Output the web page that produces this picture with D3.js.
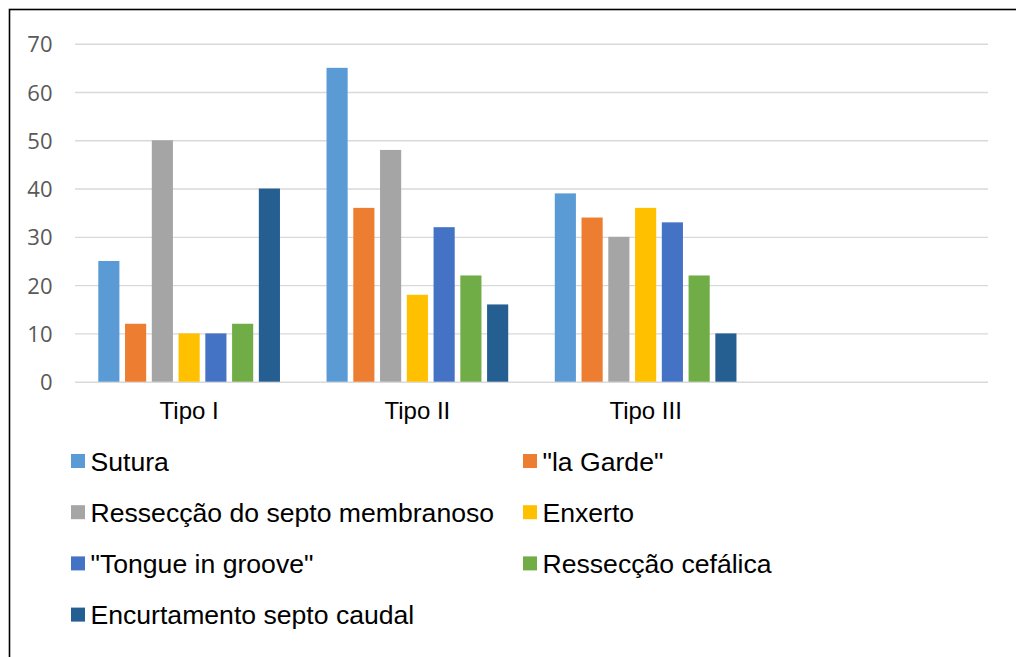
<!DOCTYPE html>
<html>
<head>
<meta charset="utf-8">
<script src="https://cdn.jsdelivr.net/npm/d3@7"></script>
<style>
  html, body { margin: 0; padding: 0; background: #fff; }
  svg { display: block; }
</style>
</head>
<body>
<script>
const categories = ["Tipo I", "Tipo II", "Tipo III", ""];
const seriesNames = ["Sutura", "\"la Garde\"", "Ressecção do septo membranoso", "Enxerto",
  "\"Tongue in groove\"", "Ressecção cefálica", "Encurtamento septo caudal"];
const seriesColors = ["#5B9BD5", "#ED7D31", "#A5A5A5", "#FFC000", "#4472C4", "#70AD47", "#255E91"];
const sutura      = [25, 65, 39];
const laGarde     = [12, 36, 34];
const resseccaoSM = [50, 48, 30];
const enxerto     = [10, 18, 36];
const tongue      = [10, 32, 33];
const resseccaoC  = [12, 22, 22];
const encurtamento = [40, 16, 10];
const seriesValues = [sutura, laGarde, resseccaoSM, enxerto, tongue, resseccaoC, encurtamento];
const yTicks = [0, 10, 20, 30, 40, 50, 60, 70];

const W = 1016, H = 657;
const svg = d3.select("body").append("svg").attr("width", W).attr("height", H);

// outer border (bottom/right outside view)
svg.append("rect").attr("x", 9.5).attr("y", 9.5).attr("width", 1100).attr("height", 700)
  .attr("fill", "none").attr("stroke", "#000").attr("stroke-width", 1.6);

const x0 = d3.scaleBand().domain(categories).range([75, 988]).paddingInner(0).paddingOuter(0);
const x1 = d3.scaleBand().domain(d3.range(seriesNames.length)).range([0, x0.bandwidth()])
  .paddingInner(0.21).paddingOuter(0.87);
const y = d3.scaleLinear().domain([0, 70]).range([381.7, 43.7]);

// gridlines
const yAxis = d3.axisLeft(y).tickValues(yTicks).tickSize(-(988 - 75)).tickFormat(d3.format("d"));
const gy = svg.append("g").attr("transform", "translate(75,0)").call(yAxis);
gy.select(".domain").remove();
gy.selectAll(".tick line").attr("stroke", "#D9D9D9").attr("stroke-width", 1.4);
gy.selectAll(".tick text").attr("x", -22.5).attr("dy", "0.37em")
  .attr("fill", "#595959").style("font-family", "'Open Sans', sans-serif").style("font-size", "22px");

// bars
const data = [];
categories.forEach((c, ci) => {
  seriesValues.forEach((vals, si) => {
    if (vals[ci] !== undefined) data.push({ cat: c, si, v: vals[ci] });
  });
});
svg.append("g").selectAll("rect").data(data).join("rect")
  .attr("x", d => x0(d.cat) + x1(d.si))
  .attr("y", d => y(d.v))
  .attr("width", x1.bandwidth())
  .attr("height", d => y(0) - y(d.v))
  .attr("fill", d => seriesColors[d.si]);

// x axis
const xAxis = d3.axisBottom(x0).tickSize(0).tickPadding(0);
const gx = svg.append("g").attr("transform", `translate(0,${y(0)})`).call(xAxis);
gx.select(".domain").remove();
gx.selectAll(".tick text").attr("y", 37).attr("dy", 0)
  .attr("fill", "#000").style("font-family", "'Liberation Sans', Arial, sans-serif").style("font-size", "24px");

// legend
const legend = svg.append("g");
const colX = [71, 523];
seriesNames.forEach((name, i) => {
  const col = i % 2, row = Math.floor(i / 2);
  const cy = 461 + row * 51.2;
  const g = legend.append("g");
  g.append("rect").attr("x", colX[col]).attr("y", cy - 7).attr("width", 14).attr("height", 14)
    .attr("fill", seriesColors[i]);
  g.append("text").attr("x", colX[col] + 19.5).attr("y", cy + 9.7)
    .attr("fill", "#000").style("font-family", "'Liberation Sans', Arial, sans-serif")
    .style("font-size", "26.6px").text(name);
});
</script>
</body>
</html>
